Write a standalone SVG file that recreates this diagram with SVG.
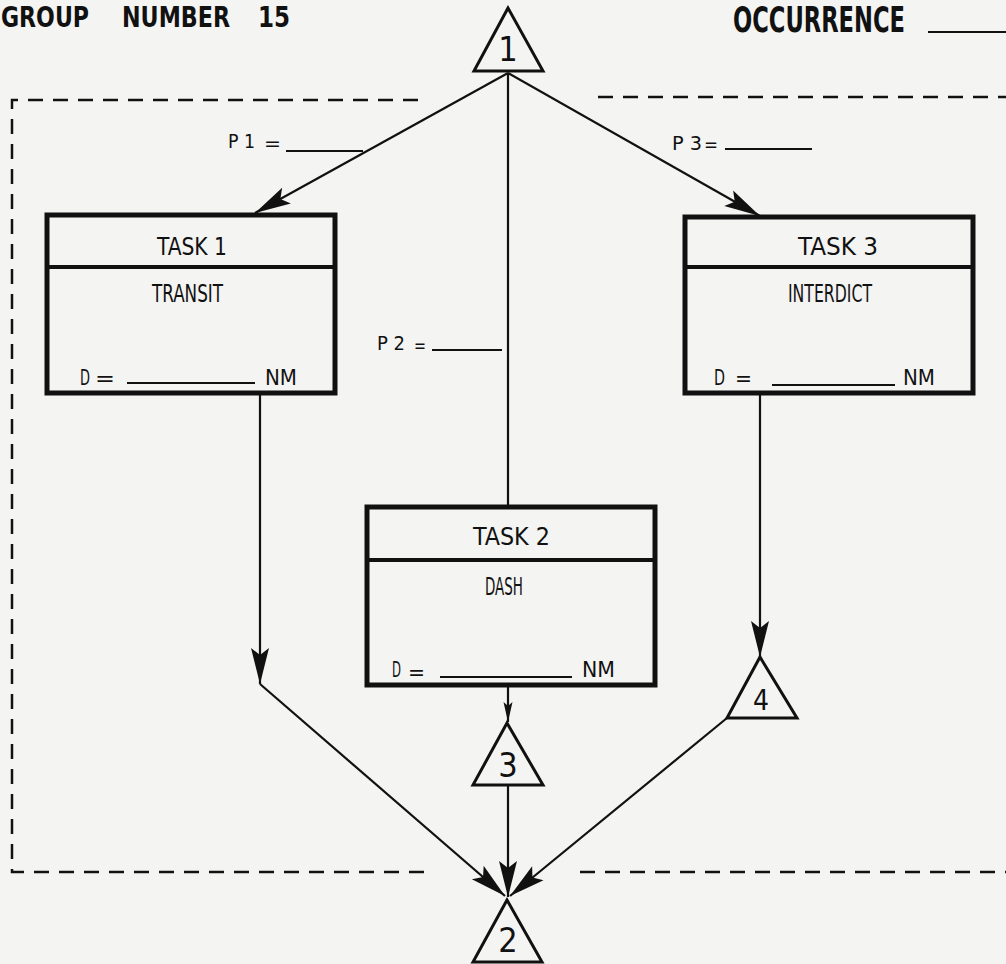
<svg xmlns="http://www.w3.org/2000/svg" width="1006" height="964" viewBox="0 0 1006 964">
<style>
.t{font-family:"Liberation Sans Narrow","DejaVu Sans Condensed","Liberation Sans",sans-serif;fill:#111}
.h{font-weight:900;font-family:"Liberation Sans Narrow","DejaVu Sans Condensed","Liberation Sans",sans-serif;fill:#111}
.box{fill:none;stroke:#111;stroke-width:5}
.div{stroke:#111;stroke-width:4}
.ul{stroke:#111;stroke-width:2.2}
.tri{fill:#f4f4f2;stroke:#111;stroke-width:3;stroke-linejoin:miter}
.dash{stroke:#111;stroke-width:2.5;stroke-dasharray:15 10;fill:none}
.c{stroke:#111;stroke-width:2.2;fill:none}
</style>
<defs>
<marker id="ah" markerUnits="userSpaceOnUse" markerWidth="40" markerHeight="24" refX="0" refY="0" viewBox="-38 -12 40 24" orient="auto">
<path d="M0,0 L-36,-9 L-29,0 L-36,9 Z" fill="#111"/>
</marker>
<marker id="as" markerUnits="userSpaceOnUse" markerWidth="24" markerHeight="12" refX="0" refY="0" viewBox="-22 -6 24 12" orient="auto">
<path d="M0,0 L-20,-4.5 L-16,0 L-20,4.5 Z" fill="#111"/>
</marker>
</defs>
<rect width="1006" height="964" fill="#f4f4f2"/>

<g id="header">
<text class="h" x="1" y="27" font-size="28" textLength="88" lengthAdjust="spacingAndGlyphs">GROUP</text>
<text class="h" x="122" y="27" font-size="28" textLength="108" lengthAdjust="spacingAndGlyphs">NUMBER</text>
<text class="h" x="258" y="27" font-size="28" textLength="32" lengthAdjust="spacingAndGlyphs">15</text>
<text class="h" x="733" y="32" font-size="35" textLength="172" lengthAdjust="spacingAndGlyphs">OCCURRENCE</text>
<line class="ul" x1="928" y1="32" x2="1006" y2="32" stroke-width="2.5"/>
</g>

<g id="boundary">
<polyline class="dash" points="418,100 12,100 12,872 428,872"/>
<line class="dash" x1="598" y1="97" x2="1006" y2="97"/>
<line class="dash" x1="580" y1="872" x2="1006" y2="872"/>
</g>

<g id="connectors">
<line class="c" x1="508" y1="73" x2="255" y2="213" marker-end="url(#ah)"/>
<line class="c" x1="508" y1="73" x2="760" y2="216" marker-end="url(#ah)"/>
<line class="c" x1="508" y1="73" x2="508" y2="507"/>
<line class="c" x1="260" y1="393" x2="260" y2="684" marker-end="url(#ah)"/>
<line class="c" x1="260" y1="684" x2="505" y2="896" marker-end="url(#ah)"/>
<line class="c" x1="760" y1="393" x2="760" y2="657" marker-end="url(#ah)"/>
<line class="c" x1="727" y1="718" x2="510" y2="896" marker-end="url(#ah)"/>
<line class="c" x1="508" y1="685" x2="508" y2="722" marker-end="url(#as)"/>
<line class="c" x1="508" y1="785" x2="508" y2="897" marker-end="url(#ah)"/>
</g>

<g id="p-labels">
<text class="t" x="228" y="148" font-size="19" textLength="27" lengthAdjust="spacingAndGlyphs">P 1</text>
<text class="t" x="264" y="150" font-size="19" textLength="17" lengthAdjust="spacingAndGlyphs">=</text>
<line class="ul" x1="286" y1="151" x2="363" y2="151"/>
<text class="t" x="377" y="350" font-size="19" textLength="28" lengthAdjust="spacingAndGlyphs">P 2</text>
<text class="t" x="414" y="352" font-size="19" textLength="12" lengthAdjust="spacingAndGlyphs">=</text>
<line class="ul" x1="432" y1="350" x2="502" y2="350"/>
<text class="t" x="672" y="150" font-size="19" textLength="30" lengthAdjust="spacingAndGlyphs">P 3</text>
<text class="t" x="704" y="151" font-size="19" textLength="14" lengthAdjust="spacingAndGlyphs">=</text>
<line class="ul" x1="725" y1="149" x2="812" y2="149"/>
</g>

<g id="node-1">
<polygon class="tri" points="508,8 474,71 543,71"/>
<text class="t" x="508" y="61" font-size="34" text-anchor="middle">1</text>
</g>

<g id="task-1">
<rect class="box" x="47" y="215" width="288" height="178" fill="#f4f4f2"/>
<line class="div" x1="47" y1="267" x2="335" y2="267"/>
<text class="t" x="157" y="255" font-size="25" textLength="70" lengthAdjust="spacingAndGlyphs">TASK 1</text>
<text class="t" x="152" y="302" font-size="25" textLength="71" lengthAdjust="spacingAndGlyphs">TRANSIT</text>
<text class="t" x="80" y="385" font-size="22" textLength="10" lengthAdjust="spacingAndGlyphs">D</text>
<text class="t" x="95" y="386" font-size="22" textLength="20" lengthAdjust="spacingAndGlyphs">=</text>
<line class="ul" x1="127" y1="383" x2="255" y2="383"/>
<text class="t" x="265" y="385" font-size="22" textLength="32" lengthAdjust="spacingAndGlyphs">NM</text>
</g>

<g id="task-3">
<rect class="box" x="685" y="217" width="288" height="176" fill="#f4f4f2"/>
<line class="div" x1="685" y1="267" x2="973" y2="267"/>
<text class="t" x="798" y="255" font-size="25" textLength="80" lengthAdjust="spacingAndGlyphs">TASK 3</text>
<text class="t" x="788" y="302" font-size="25" textLength="84" lengthAdjust="spacingAndGlyphs">INTERDICT</text>
<text class="t" x="714" y="385" font-size="22" textLength="11" lengthAdjust="spacingAndGlyphs">D</text>
<text class="t" x="735" y="386" font-size="22" textLength="17" lengthAdjust="spacingAndGlyphs">=</text>
<line class="ul" x1="772" y1="385" x2="895" y2="385"/>
<text class="t" x="903" y="385" font-size="22" textLength="32" lengthAdjust="spacingAndGlyphs">NM</text>
</g>

<g id="task-2">
<rect class="box" x="367" y="507" width="288" height="178" fill="#f4f4f2"/>
<line class="div" x1="367" y1="560" x2="655" y2="560"/>
<text class="t" x="473" y="545" font-size="25" textLength="77" lengthAdjust="spacingAndGlyphs">TASK 2</text>
<text class="t" x="485" y="595" font-size="25" textLength="38" lengthAdjust="spacingAndGlyphs">DASH</text>
<text class="t" x="392" y="677" font-size="22" textLength="9" lengthAdjust="spacingAndGlyphs">D</text>
<text class="t" x="408" y="680" font-size="22" textLength="17" lengthAdjust="spacingAndGlyphs">=</text>
<line class="ul" x1="440" y1="677" x2="572" y2="677"/>
<text class="t" x="582" y="677" font-size="22" textLength="33" lengthAdjust="spacingAndGlyphs">NM</text>
</g>

<g id="node-3">
<polygon class="tri" points="507,723 473,785 543,785"/>
<text class="t" x="508" y="777" font-size="34" text-anchor="middle">3</text>
</g>

<g id="node-4">
<polygon class="tri" points="760,657 727,718 797,718"/>
<text class="t" x="761" y="710" font-size="28" text-anchor="middle">4</text>
</g>

<g id="node-2">
<polygon class="tri" points="507,900 473,962 542,962"/>
<text class="t" x="508" y="952" font-size="34" text-anchor="middle">2</text>
</g>
</svg>
